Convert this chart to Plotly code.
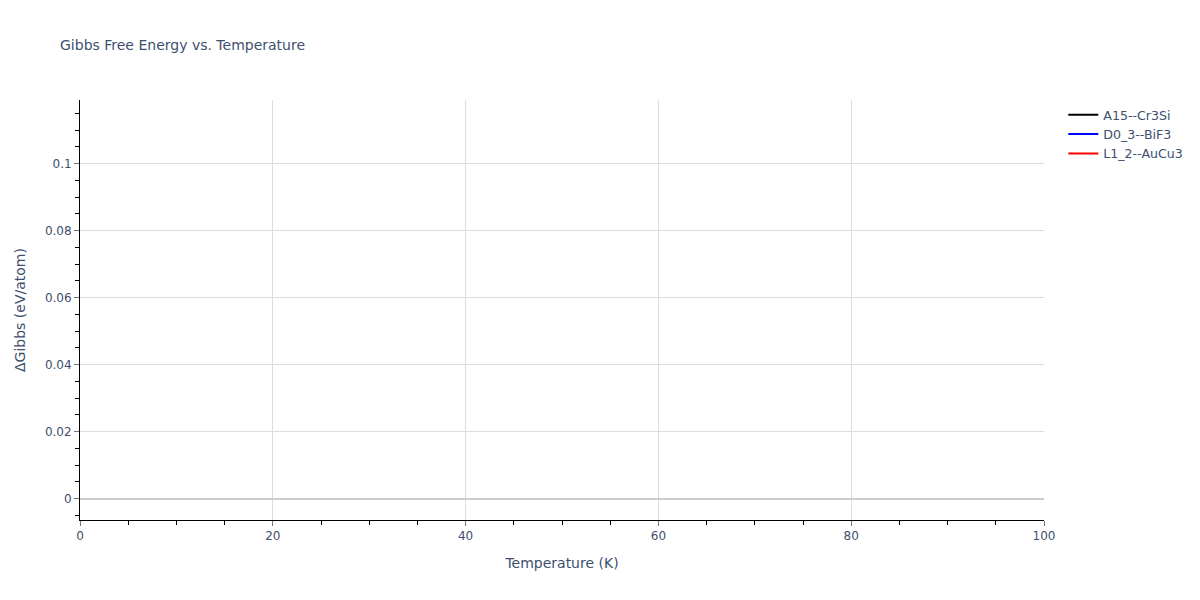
import plotly.graph_objects as go

# series names and values (no points fall inside the shown 0-100 K window)
names = ['A15--Cr3Si', 'D0_3--BiF3', 'L1_2--AuCu3']
colors = ['black', 'blue', 'red']
temps = [[None], [None], [None]]
dgibbs = [[None], [None], [None]]

fig = go.Figure()
for i in range(3):
    fig.add_trace(go.Scatter(x=temps[i], y=dgibbs[i], mode='lines',
                             name=names[i], line=dict(color=colors[i], width=2)))

axis_style = dict(
    showline=True, linecolor='black', linewidth=1,
    ticks='outside', tickcolor='#777', ticklen=5,
    showgrid=True, gridcolor='#dddddd',
    zeroline=True, zerolinecolor='#cccccc', zerolinewidth=2,
)

fig.update_layout(
    template='plotly_white',
    font=dict(family='DejaVu Sans, Verdana, sans-serif', color='#3d4f6e'),
    title=dict(text='Gibbs Free Energy vs. Temperature', font=dict(size=14)),
    xaxis=dict(title='Temperature (K)', range=[0, 100], dtick=20,
               minor=dict(ticks='outside', dtick=5, ticklen=4, tickcolor='black'),
               **axis_style),
    yaxis=dict(title='ΔGibbs (eV/atom)', range=[-0.0064, 0.119], dtick=0.02,
               minor=dict(ticks='outside', dtick=0.005, ticklen=4, tickcolor='black'),
               **axis_style),
    legend=dict(font=dict(size=12.6)),
    showlegend=True,
    width=1200, height=600,
)

fig.write_html("out.html", config={'displayModeBar': False},
               post_script="document.body.style.margin='0';")
